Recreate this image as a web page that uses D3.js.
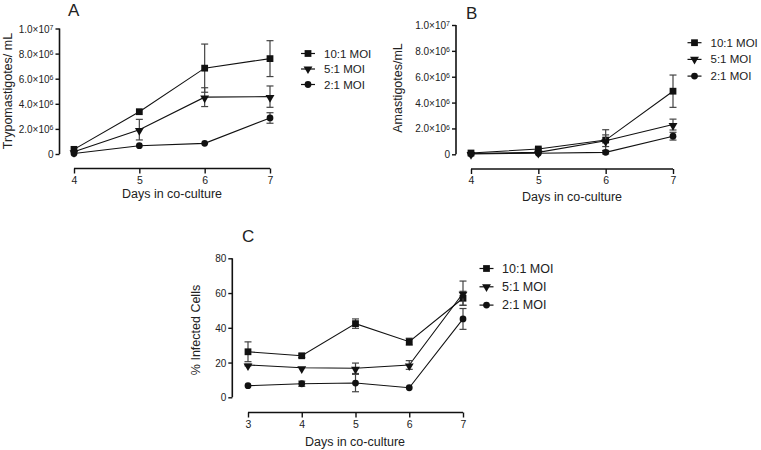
<!DOCTYPE html>
<html><head><meta charset="utf-8">
<script src="https://cdn.jsdelivr.net/npm/d3@7"></script>
<style>
body{margin:0;background:#fff;}
text{font-family:"Liberation Sans",Arial,sans-serif;fill:#222;}
</style></head>
<body><svg id="chart" width="761" height="450"></svg>
<script>
// ---- data ----
const seriesNames = ["10:1 MOI", "5:1 MOI", "2:1 MOI"];
const daysAB = [4, 5, 6, 7];
const daysC = [3, 4, 5, 6, 7];

const tryp10 = [0.37e6, 3.37e6, 6.84e6, 7.6e6];
const tryp10Err = [0, 0, 1.92e6, 1.43e6];
const tryp5 = [0.18e6, 1.94e6, 4.53e6, 4.57e6];
const tryp5Err = [0, 0.82e6, 0.75e6, 0.85e6];
const tryp2 = [0.04e6, 0.66e6, 0.85e6, 2.87e6];
const tryp2Err = [0, 0, 0, 0.42e6];

const amas10 = [0.1e6, 0.41e6, 1.1e6, 4.88e6];
const amas10Err = [0.05e6, 0.08e6, 0.8e6, 1.25e6];
const amas5 = [0.06e6, 0.15e6, 1.05e6, 2.3e6];
const amas5Err = [0, 0, 0.45e6, 0.42e6];
const amas2 = [0.03e6, 0.08e6, 0.15e6, 1.4e6];
const amas2Err = [0, 0, 0.12e6, 0.3e6];

const inf10 = [26.2, 23.9, 42.4, 32.0, 57];
const inf10Err = [5.7, 1, 2.7, 2, 4];
const inf5 = [18.6, 17.0, 16.7, 18.6, 59.9];
const inf5Err = [0.5, 0, 3, 2.5, 7];
const inf2 = [6.7, 7.8, 8.2, 5.5, 45.1];
const inf2Err = [0, 1.5, 5, 0, 6];

const ticksAB = [0, 2e6, 4e6, 6e6, 8e6, 1e7];
const tickLabelsAB = [["0",""], ["2.0×10","6"], ["4.0×10","6"], ["6.0×10","6"], ["8.0×10","6"], ["1.0×10","7"]];
const ticksC = [0, 20, 40, 60, 80];

const svg = d3.select("#chart");
const markers = [d3.symbolSquare, d3.symbolTriangle, d3.symbolCircle];
const markerSize = [46, 34, 36];
const markerRot = [0, 180, 0];

function markerPath(i){ return d3.symbol().type(markers[i]).size(markerSize[i])(); }

function panel(cfg){
  const g = svg.append("g");
  const x = d3.scaleLinear().domain(cfg.xDomain).range(cfg.xRange);
  const y = d3.scaleLinear().domain(cfg.yDomain).range(cfg.yRange);

  // y axis
  const yAxis = d3.axisLeft(y).tickValues(cfg.yTicks).tickSize(4).tickPadding(2).tickFormat(() => "");
  const ya = g.append("g").attr("transform", `translate(${cfg.yAxisX},0)`).call(yAxis);
  ya.select(".domain").attr("stroke", "#111").attr("stroke-width", 1.6).attr("d", `M0,${cfg.yRange[1]}V${cfg.yRange[0]}`);
  ya.selectAll(".tick line").attr("stroke", "#111").attr("stroke-width", 1.4);
  ya.selectAll(".tick").each(function(d, i){
    const t = d3.select(this).append("text").attr("x", -6).attr("dy", "0.35em")
      .attr("text-anchor", "end").style("font-size", "10px");
    const lab = cfg.yLabels ? cfg.yLabels[i] : [String(d), ""];
    t.append("tspan").text(lab[0]);
    if (lab[1]) t.append("tspan").attr("dy", "-0.4em").style("font-size", "7px").text(lab[1]);
  });

  // x axis
  const xAxis = d3.axisBottom(x).tickValues(cfg.days).tickSize(5).tickPadding(3).tickFormat(d3.format("d"));
  const xa = g.append("g").attr("transform", `translate(0,${cfg.xAxisY})`).call(xAxis);
  xa.select(".domain").attr("stroke", "#111").attr("stroke-width", 1.6).attr("d", `M${cfg.xRange[0]},0H${cfg.xRange[1]}`);
  xa.selectAll(".tick line").attr("stroke", "#111").attr("stroke-width", 1.4);
  xa.selectAll(".tick text").style("font-size", "10.5px").attr("fill", "#222");

  // titles
  g.append("text").attr("x", cfg.letterPos[0]).attr("y", cfg.letterPos[1]).style("font-size", "17px").text(cfg.letter);
  g.append("text").attr("transform", `translate(${cfg.yTitlePos[0]},${cfg.yTitlePos[1]}) rotate(-90)`)
    .attr("text-anchor", "middle").attr("dy", "0.35em").style("font-size", "12.5px").text(cfg.yTitle);
  g.append("text").attr("x", cfg.xTitlePos[0]).attr("y", cfg.xTitlePos[1]).attr("text-anchor", "middle")
    .attr("dy", "0.35em").style("font-size", "12.5px").text("Days in co-culture");

  // series
  cfg.series.forEach((s, si) => {
    const pts = cfg.days.map((d, i) => ({d, v: s.vals[i], e: s.errs[i]}));
    g.append("path").datum(pts).attr("fill", "none").attr("stroke", "#111").attr("stroke-width", 1.1)
      .attr("d", d3.line().x(p => x(p.d)).y(p => y(p.v)));
    pts.filter(p => p.e > 0).forEach(p => {
      const eg = g.append("g").attr("stroke", "#444").attr("stroke-width", 1.2);
      const cx = x(p.d), y1 = y(p.v + p.e), y0 = y(Math.max(0, p.v - p.e));
      eg.append("line").attr("x1", cx).attr("x2", cx).attr("y1", y1).attr("y2", y0);
      eg.append("line").attr("x1", cx - 3.5).attr("x2", cx + 3.5).attr("y1", y1).attr("y2", y1);
      eg.append("line").attr("x1", cx - 3.5).attr("x2", cx + 3.5).attr("y1", y0).attr("y2", y0);
    });
    g.selectAll(null).data(pts).enter().append("path")
      .attr("d", markerPath(si)).attr("fill", "#111")
      .attr("transform", p => `translate(${x(p.d)},${y(p.v) + (si === 1 ? 1 : 0)}) rotate(${markerRot[si]})`);
  });

  // legend
  seriesNames.forEach((n, i) => {
    const ly = cfg.legend.y + i * cfg.legend.dy;
    const lg = g.append("g").attr("transform", `translate(${cfg.legend.x},${ly})`);
    lg.append("line").attr("x1", -7).attr("x2", 7).attr("stroke", "#111").attr("stroke-width", 1.2);
    lg.append("path").attr("d", markerPath(i)).attr("fill", "#111").attr("transform", `rotate(${markerRot[i]})`);
    lg.append("text").attr("x", cfg.legend.tx).attr("dy", "0.35em").style("font-size", cfg.legend.fs + "px").text(n);
  });
}

panel({
  letter: "A", letterPos: [68, 15.5],
  days: daysAB, xDomain: [4, 7], xRange: [74, 270], xAxisY: 168.5,
  yDomain: [0, 1e7], yRange: [154, 28.5], yAxisX: 59.5, yTicks: ticksAB, yLabels: tickLabelsAB,
  yTitle: "Trypomastigotes/ mL", yTitlePos: [8, 91], xTitlePos: [172, 194],
  series: [{vals: tryp10, errs: tryp10Err}, {vals: tryp5, errs: tryp5Err}, {vals: tryp2, errs: tryp2Err}],
  legend: {x: 308, y: 53.5, dy: 15.5, tx: 16, fs: 11.5}
});
panel({
  letter: "B", letterPos: [466, 18.5],
  days: daysAB, xDomain: [4, 7], xRange: [471, 673], xAxisY: 169,
  yDomain: [0, 1e7], yRange: [154.3, 25], yAxisX: 456, yTicks: ticksAB, yLabels: tickLabelsAB,
  yTitle: "Amastigotes/mL", yTitlePos: [398, 88], xTitlePos: [572, 197],
  series: [{vals: amas10, errs: amas10Err}, {vals: amas5, errs: amas5Err}, {vals: amas2, errs: amas2Err}],
  legend: {x: 694.5, y: 42.7, dy: 16.7, tx: 16, fs: 11.5}
});
panel({
  letter: "C", letterPos: [242, 241.5],
  days: daysC, xDomain: [3, 7], xRange: [248, 463], xAxisY: 412.5,
  yDomain: [0, 80], yRange: [397.3, 258.3], yAxisX: 232.3, yTicks: ticksC, yLabels: null,
  yTitle: "% Infected Cells", yTitlePos: [196, 330], xTitlePos: [355, 442],
  series: [{vals: inf10, errs: inf10Err}, {vals: inf5, errs: inf5Err}, {vals: inf2, errs: inf2Err}],
  legend: {x: 486.5, y: 268.5, dy: 18.3, tx: 15.5, fs: 12.5}
});
</script></body></html>
